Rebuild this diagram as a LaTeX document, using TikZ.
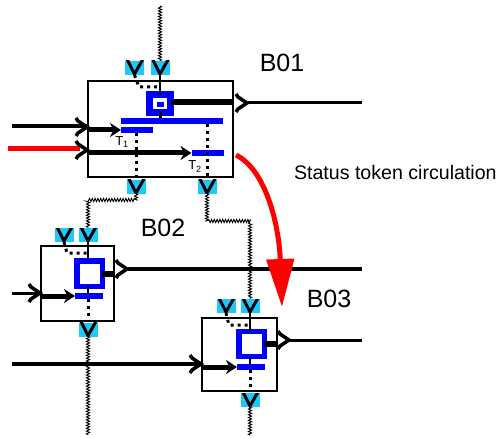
\documentclass[tikz,border=0pt]{standalone}
\usepackage{fontspec}
\setmainfont{Liberation Sans}
\usetikzlibrary{arrows.meta,decorations.pathmorphing}
\definecolor{portcyan}{RGB}{30,200,250}
\begin{document}
\begin{tikzpicture}[x=1pt, y=-1pt, every node/.style={inner sep=0pt, outer sep=0pt}]
  \tikzstyle{box}=[draw, line width=1.5pt, anchor=north west]
  \tikzstyle{port}=[fill=portcyan, minimum width=19pt, minimum height=14pt, path picture={
    \draw[line width=3pt] ([shift={(2pt,2pt)}]path picture bounding box.north west)
      -- ([yshift=1pt]path picture bounding box.south) -- ([shift={(-1pt,2pt)}]path picture bounding box.north east);}]
  \tikzstyle{place}=[draw=blue, fill=white]
  \tikzstyle{bar}=[fill=blue, minimum height=6pt]
  \tikzstyle{rope}=[line width=0.9pt, decorate, decoration={zigzag, amplitude=1.6pt, segment length=2.8pt}]
  \tikzstyle{dots}=[line width=3pt, dash pattern=on 3pt off 4pt]
  \tikzstyle{flow}=[line width=5pt, -{Stealth[length=11pt, width=14pt]}]
  \tikzset{chev/.pic={\draw[line width=3.5pt] (-12,-9) -- (-10,-6) -- (-1,0) -- (-10,6) -- (-12,9);}}
  \useasboundingbox (0,0) rectangle (497,438);

  % B01
  \node[box, minimum width=145pt, minimum height=96pt] (b1) at (88,81) {};
  \node[port] (b1n1) at (134.5,68) {}; \node[port] (b1n2) at (160,68) {};
  \node[port] (b1s1) at (136,187) {}; \node[port] (b1s2) at (207,187) {};
  \node[place, line width=7pt, minimum width=21pt, minimum height=18pt] (p1) at (160,103.5) {};
  \node[bar, minimum width=7pt, minimum height=5pt] (tok) at (160.5,104.5) {};
  \node[bar, minimum width=102pt] (t0) at (172,121) {};
  \node[bar, minimum width=32pt] (t1) at (137,130) {};
  \node[bar, minimum width=32pt] (t2) at (207.5,153) {};
  \coordinate (i1) at (12,126); \coordinate (c1) at (88,126);
  \coordinate (i2) at (8,149); \coordinate (c2) at (80,149);
  \coordinate (o1) at (233,102);
  \coordinate (o2) at (248,103); \coordinate (o3) at (362,103);
  \draw[dots] (b1n1.south) -- (139,87) -- (160,87);
  \draw[line width=2pt] (b1n2.south) -- (p1.north);
  \draw[line width=3pt] (p1.south) -- (p1.south |- t0.north);
  \draw[dots] (b1s1.north |- t1.south) -- (b1s1.north);
  \draw[dots] (b1s2.north |- t0.south) -- (b1s2.north);
  \draw[line width=4pt] (i1) -- (c1); \pic at (88,127) {chev};
  \draw[flow] (b1.west |- t1) -- (t1.west);
  \draw[red, line width=5pt] (i2) -- (c2); \pic at (88,150) {chev};
  \draw[flow] (b1.west |- t2) -- (t2.west);
  \draw[line width=6pt] (p1.east |- o1) -- (o1);
  \pic at (o2) {chev};
  \draw[line width=3pt] (o2) -- (o3);
  \node[font=\fontsize{13}{13}\selectfont] (l1) at (122,142) {T\textsubscript{1}};
  \node[font=\fontsize{13}{13}\selectfont] (l2) at (195,166.5) {T\textsubscript{2}};
  \node[font=\fontsize{25}{25}\selectfont] (b1name) at (282,63) {B01};

  % B02
  \node[box, minimum width=73pt, minimum height=75pt] (b2) at (41,246) {};
  \node[port] (b2n1) at (64,235) {}; \node[port] (b2n2) at (88,235) {};
  \node[port] (b2s1) at (88,329.5) {};
  \node[place, line width=5.5pt, minimum width=25.5pt, minimum height=25.5pt] (p2) at (89.5,273.5) {};
  \node[bar, minimum width=28pt] (t3) at (89,296) {};
  \coordinate (i3) at (12,293); \coordinate (c3) at (41,293);
  \coordinate (o4) at (128,269); \coordinate (o5) at (362,269);
  \draw[dots] (b2n1.south) -- (67,253) -- (88,253);
  \draw[line width=2pt] (b2n2.south) -- (b2n2.south |- p2.north);
  \draw[line width=2pt] (b2n2.south |- p2.south) -- (b2n2.south |- t3.north);
  \draw[dots] (b2s1.north |- t3.south) -- (b2s1.north |- b2.south);
  \draw[line width=3pt] (i3) -- (c3); \pic at (c3) {chev};
  \draw[flow] (b2.west |- t3) -- (t3.west);
  \draw[line width=6pt] (p2.east) -- (p2.east -| b2.east);
  \pic at (o4) {chev};
  \draw[line width=3.5pt] (o4) -- (o5);
  \node[font=\fontsize{25}{25}\selectfont] (b2name) at (163,228) {B02};

  % B03
  \node[box, minimum width=75pt, minimum height=73pt] (b3) at (202,318) {};
  \node[port] (b3n1) at (226,306) {}; \node[port] (b3n2) at (250,306) {};
  \node[port] (b3s1) at (250,400) {};
  \node[place, line width=5.5pt, minimum width=25.5pt, minimum height=25pt] (p3) at (251.5,344) {};
  \node[bar, minimum width=28pt] (t4) at (251,367) {};
  \coordinate (i4) at (12,364); \coordinate (c4) at (202,364);
  \coordinate (o6) at (290,340); \coordinate (o7) at (362,340);
  \draw[dots] (b3n1.south) -- (229,325) -- (250,325);
  \draw[line width=2pt] (b3n2.south) -- (b3n2.south |- p3.north);
  \draw[line width=2pt] (b3n2.south |- p3.south) -- (b3n2.south |- t4.north);
  \draw[dots] (b3s1.north |- t4.south) -- (b3s1.north |- b3.south);
  \draw[line width=4pt] (i4) -- (c4); \pic at (c4) {chev};
  \draw[flow] (b3.west |- t4) -- (t4.west);
  \draw[line width=6pt] (p3.east) -- (p3.east -| b3.east);
  \pic at (o6) {chev};
  \draw[line width=3pt] (o6) -- (o7);
  \node[font=\fontsize{25}{25}\selectfont] (b3name) at (329,299) {B03};

  % status lines between the blocks
  \coordinate (top) at (160,6); \coordinate (e2) at (88,435); \coordinate (e3) at (250,435);
  \draw[rope] (top) -- (b1n2.north);
  \draw[rope] (b1s1.south) -- ++(0,6) -| (b2n2.north);
  \draw[rope] (b1s2.south) -- ++(0,27) -| (b3n2.north);
  \draw[rope] (b2s1.south) -- (e2);
  \draw[rope] (b3s1.south) -- (e3);

  % token
  \coordinate (r0) at (236,155); \coordinate (r1) at (282,307);
  \draw[red, line width=5pt, -{Triangle[length=48pt, width=27pt]}] (r0) .. controls (266,170) and (279,225) .. (r1);
  \node[font=\fontsize{19.6}{19.6}\selectfont, anchor=west] (status) at (294,172) {Status token circulation};
\end{tikzpicture}
\end{document}
